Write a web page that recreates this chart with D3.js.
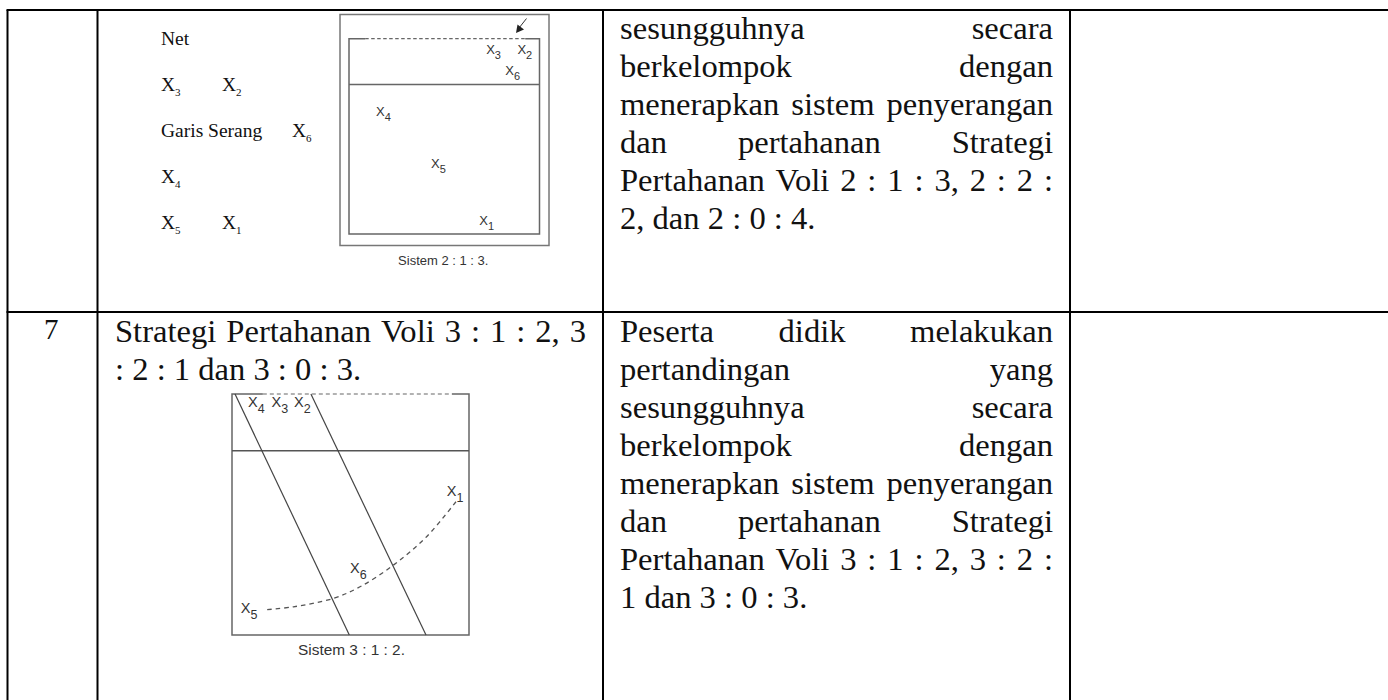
<!DOCTYPE html>
<html>
<head>
<meta charset="utf-8">
<script src="https://cdn.jsdelivr.net/npm/d3@7"></script>
<style>
html, body { margin: 0; padding: 0; background: #fff; overflow: hidden; }
text { white-space: pre; }
.doc { font-family: "Liberation Serif", serif; fill: #111; }
.sans { font-family: "Liberation Sans", sans-serif; fill: #333; }
</style>
</head>
<body>
<div id="page"></div>
<script>
// table
const columnEdges = [7.5, 97.5, 603, 1070];
const rowEdges = [10, 312];

// text of the cells, line by line
const topCellLines = ["sesungguhnya secara", "berkelompok dengan", "menerapkan sistem penyerangan", "dan pertahanan Strategi", "Pertahanan Voli 2 : 1 : 3, 2 : 2 :", "2, dan 2 : 0 : 4."];
const bottomCellLines = ["Peserta didik melakukan", "pertandingan yang", "sesungguhnya secara", "berkelompok dengan", "menerapkan sistem penyerangan", "dan pertahanan Strategi", "Pertahanan Voli 3 : 1 : 2, 3 : 2 :", "1 dan 3 : 0 : 3."];
const topCellJustified = [true, true, true, true, true, false];
const bottomCellJustified = [true, true, true, true, true, true, true, false];
const leftCellLines = ["Strategi Pertahanan Voli 3 : 1 : 2, 3", ": 2 : 1 dan 3 : 0 : 3."];
const leftCellJustified = [true, false];

// left side notes of the first row
const noteLabels = [
    { text: "Net", col: 0, row: 0 },
    { text: "X", sub: "3", col: 0, row: 1 },
    { text: "X", sub: "2", col: 1, row: 1 },
    { text: "Garis Serang", col: 0, row: 2 },
    { text: "X", sub: "6", col: 2, row: 2 },
    { text: "X", sub: "4", col: 0, row: 3 },
    { text: "X", sub: "5", col: 0, row: 4 },
    { text: "X", sub: "1", col: 1, row: 4 }
];

// players on the 2:1:3 court, court units 0..1
const playersA = [
    { sub: "3", x: 0.72, y: 0.077 },
    { sub: "2", x: 0.884, y: 0.077 },
    { sub: "6", x: 0.82, y: 0.185 },
    { sub: "4", x: 0.142, y: 0.392 },
    { sub: "5", x: 0.431, y: 0.659 },
    { sub: "1", x: 0.684, y: 0.95 }
];

// players on the 3:1:2 court
const playersB = [
    { sub: "4", x: 0.068, y: 0.053 },
    { sub: "3", x: 0.167, y: 0.053 },
    { sub: "2", x: 0.262, y: 0.053 },
    { sub: "1", x: 0.906, y: 0.422 },
    { sub: "6", x: 0.498, y: 0.743 },
    { sub: "5", x: 0.037, y: 0.908 }
];
const diagonalsB = [
    { x0: 0.0127, y0: 0, x1: 0.495, y1: 1 },
    { x0: 0.333, y0: 0, x1: 0.8186, y1: 1 }
];
const curveB = [[0.945, 0.447], [0.821, 0.592], [0.681, 0.71], [0.54, 0.8], [0.428, 0.848], [0.259, 0.883], [0.132, 0.896]];

const svg = d3.select("#page").append("svg")
    .attr("width", 1388)
    .attr("height", 700);

const grid = svg.append("g").attr("stroke", "#000").attr("stroke-width", 2);

rowEdges.forEach(y => {
    grid.append("line").attr("x1", 6.5).attr("x2", 1388).attr("y1", y).attr("y2", y);
});
columnEdges.forEach(x => {
    grid.append("line").attr("x1", x).attr("x2", x).attr("y1", 10).attr("y2", 700);
});

// spreads the words of one line across the cell like the justified text in the original
function drawLines(lines, justified, left, right, firstBaseline, lineHeight) {
    const g = svg.append("g").attr("class", "doc").attr("font-size", 32.6);
    lines.forEach((line, i) => {
        const y = firstBaseline + i * lineHeight;
        const words = line.split(" ");
        if (!justified || !justified[i] || words.length < 2) {
            g.append("text").attr("x", left).attr("y", y).text(line);
            return;
        }
        const nodes = words.map(w => g.append("text").attr("y", y).text(w));
        const widths = nodes.map(n => n.node().getComputedTextLength());
        const gap = (right - left - d3.sum(widths)) / (words.length - 1);
        let x = left;
        nodes.forEach((n, j) => {
            n.attr("x", x);
            x += widths[j] + gap;
        });
    });
}

drawLines(topCellLines, topCellJustified, 620, 1053, 39, 38);
drawLines(bottomCellLines, bottomCellJustified, 620, 1053, 342, 38);
drawLines(leftCellLines, leftCellJustified, 115, 586, 342, 38);

svg.append("text").attr("class", "doc").attr("x", 44).attr("y", 339)
    .attr("font-size", 29).text("7");

function playerLabel(parent, x, y, sub, size, subSize, dy) {
    const t = parent.append("text").attr("x", x).attr("y", y).attr("font-size", size);
    t.append("tspan").text("X");
    t.append("tspan").attr("font-size", subSize).attr("dy", dy).text(sub);
}

// notes beside the first court
const noteX = d3.scaleOrdinal().domain([0, 1, 2]).range([161, 222, 292]);
const noteY = d3.scaleLinear().domain([0, 4]).range([45, 229]);
const notes = svg.append("g").attr("class", "doc");
noteLabels.forEach(d => {
    if (d.sub) {
        playerLabel(notes, noteX(d.col), noteY(d.row), d.sub, 19.5, 11, 5);
    } else {
        notes.append("text").attr("x", noteX(d.col)).attr("y", noteY(d.row))
            .attr("font-size", 19.5).text(d.text);
    }
});

// first court 2:1:3
const courtA = svg.append("g");
const ax = d3.scaleLinear().domain([0, 1]).range([349, 539.5]);
const ay = d3.scaleLinear().domain([0, 1]).range([38.7, 234]);
courtA.append("rect").attr("x", 340).attr("y", 14.5).attr("width", 209).attr("height", 231)
    .attr("fill", "none").attr("stroke", "#777").attr("stroke-width", 1.5);
courtA.append("path")
    .attr("d", `M${ax(0.085)},${ay(0)}H${ax(0)}V${ay(1)}H${ax(1)}V${ay(0)}H${ax(0.925)}`)
    .attr("fill", "none").attr("stroke", "#666").attr("stroke-width", 1.5);
courtA.append("line").attr("x1", ax(0)).attr("x2", ax(1)).attr("y1", ay(0.235)).attr("y2", ay(0.235))
    .attr("stroke", "#666").attr("stroke-width", 1.5);
courtA.append("line").attr("x1", ax(0.085)).attr("x2", ax(0.925)).attr("y1", ay(0)).attr("y2", ay(0))
    .attr("stroke", "#666").attr("stroke-width", 1.2).attr("stroke-dasharray", "3.5 2.5");
courtA.append("line").attr("x1", 526.5).attr("y1", 18.5).attr("x2", 519).attr("y2", 28)
    .attr("stroke", "#333").attr("stroke-width", 1);
courtA.append("path").attr("d", "M516,33L517.5,24.5L524,29.5Z").attr("fill", "#222");
const labelsA = courtA.append("g").attr("class", "sans");
playersA.forEach(d => playerLabel(labelsA, ax(d.x), ay(d.y) + 0.5, d.sub, 13, 11, 5));
courtA.append("text").attr("class", "sans").attr("x", ax(0.5) - 1).attr("y", 265)
    .attr("text-anchor", "middle").attr("font-size", 13).text("Sistem 2 : 1 : 3.");

// second court 3:1:2
const courtB = svg.append("g");
const bx = d3.scaleLinear().domain([0, 1]).range([232, 469]);
const by = d3.scaleLinear().domain([0, 1]).range([394, 635]);
courtB.append("path")
    .attr("d", `M${bx(0.13)},${by(0)}H${bx(0)}V${by(1)}H${bx(1)}V${by(0)}H${bx(0.928)}`)
    .attr("fill", "none").attr("stroke", "#666").attr("stroke-width", 1.5);
courtB.append("line").attr("x1", bx(0)).attr("x2", bx(1)).attr("y1", by(0.235)).attr("y2", by(0.235))
    .attr("stroke", "#555").attr("stroke-width", 1.5);
courtB.append("line").attr("x1", bx(0.13)).attr("x2", bx(0.928)).attr("y1", by(0)).attr("y2", by(0))
    .attr("stroke", "#666").attr("stroke-width", 1.2).attr("stroke-dasharray", "4 3");
courtB.selectAll(".diag").data(diagonalsB).enter().append("line")
    .attr("class", "diag")
    .attr("x1", d => bx(d.x0)).attr("y1", d => by(d.y0))
    .attr("x2", d => bx(d.x1)).attr("y2", d => by(d.y1))
    .attr("stroke", "#444").attr("stroke-width", 1.2);
courtB.append("path")
    .attr("d", d3.line().x(d => bx(d[0])).y(d => by(d[1])).curve(d3.curveCatmullRom)(curveB))
    .attr("fill", "none").attr("stroke", "#555").attr("stroke-width", 1.3).attr("stroke-dasharray", "4.5 4");
const labelsB = courtB.append("g").attr("class", "sans");
playersB.forEach(d => playerLabel(labelsB, bx(d.x), by(d.y), d.sub, 14.5, 12.5, 6));
courtB.append("text").attr("class", "sans").attr("x", bx(0.5) + 1).attr("y", 655)
    .attr("text-anchor", "middle").attr("font-size", 15.4).text("Sistem 3 : 1 : 2.");
</script>
</body>
</html>
